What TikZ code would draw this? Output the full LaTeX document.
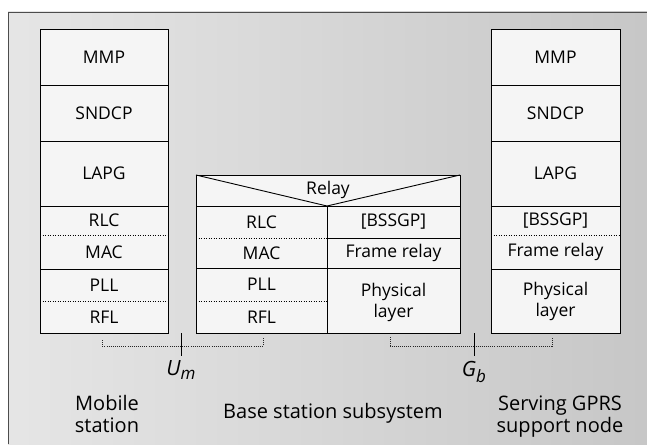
\documentclass[tikz,border=0pt]{standalone}
\usepackage{fontspec}
\setmainfont{Open Sans}
\begin{document}
\begin{tikzpicture}[x=1pt,y=-1pt,
  layer/.style={inner sep=0pt, font=\fontsize{17.5}{21}\selectfont, align=center},
  twoline/.style={layer, font=\fontsize{17.5}{21}\selectfont},
  caption/.style={inner sep=0pt, font=\fontsize{20}{22}\selectfont, align=center},
  iface/.style={inner sep=0pt, font=\fontsize{21}{24}\selectfont\itshape},
  boxline/.style={draw=black, line width=1pt},
  solidsep/.style={draw=black, line width=0.9pt},
  dotsep/.style={draw=black, line width=1pt, dash pattern=on 1.3pt off 1.2pt},
  bracket/.style={draw=black!85, line width=0.8pt, dash pattern=on 1pt off 1.1pt},
  tick/.style={draw=black, line width=0.8pt},
  boxfill/.style={fill=white!96!black}
]
\useasboundingbox (0,0) rectangle (647,444);
% halftone page background with its frame edges
\shade[left color=black!10, right color=black!22] (8,12) rectangle (647,444);
\draw[black!70, line width=0.7pt] (8,444) -- (8,12) -- (647,12);

% ---------- mobile station stack ----------
\path[boxfill] (40,30) rectangle (168,333);
\node[layer] (msmmp)   at (104,57.5)  {MMP};
\node[layer] (mssndcp) at (104,113)   {SNDCP};
\node[layer] (mslapg)  at (104,173.5) {LAPG};
\node[layer] (msrlc)   at (104,220.5) {RLC};
\node[layer] (msmac)   at (104,252)   {MAC};
\node[layer] (mspll)   at (104,285)   {PLL};
\node[layer] (msrfl)   at (104,317)   {RFL};
\coordinate (msnw) at (40,30);
\coordinate (msse) at (168,333);
\draw[solidsep] (40,85) -- (168,85);
\draw[solidsep] (40,141) -- (168,141);
\draw[solidsep] (40,206) -- (168,206);
\draw[dotsep]   (40,235) -- (168,235);
\draw[solidsep] (40,269) -- (168,269);
\draw[dotsep]   (40,301) -- (168,301);
\draw[boxline] (msnw) rectangle (msse);

% ---------- base station subsystem stack ----------
\path[boxfill] (196,175) rectangle (460,333);
\coordinate (bsnw) at (196,175);
\coordinate (bsne) at (460,175);
\coordinate (bsse) at (460,333);
\coordinate (bsmid) at (327,206);
\node[layer] (bsrelay) at (328,189.5) {Relay};
\node[layer] (bsrlc)   at (261.5,222) {RLC};
\node[layer] (bsmac)   at (261.5,253) {MAC};
\node[layer] (bspll)   at (261.5,284.5) {PLL};
\node[layer] (bsrfl)   at (261.5,317) {RFL};
\node[layer] (bsbssgp) at (393.5,222) {[BSSGP]};
\node[layer] (bsfr)    at (393.5,253) {Frame relay};
\node[twoline] (bsphy) at (393.5,302) {Physical\\layer};
\draw[line width=0.9pt] (bsnw) -- (bsmid) -- (bsne);
\draw[solidsep] (196,206) -- (460,206);
\draw[solidsep] (327,206) -- (327,333);
\draw[dotsep]   (196,238) -- (327,238);
\draw[solidsep] (327,238) -- (460,238);
\draw[solidsep] (196,268) -- (460,268);
\draw[dotsep]   (196,301) -- (327,301);
\draw[boxline] (bsnw) rectangle (bsse);

% ---------- serving GPRS support node stack ----------
\path[boxfill] (491,30) rectangle (620,333);
\coordinate (sgnw) at (491,30);
\coordinate (sgse) at (620,333);
\node[layer] (sgmmp)   at (555.5,57.5)  {MMP};
\node[layer] (sgsndcp) at (555.5,113)   {SNDCP};
\node[layer] (sglapg)  at (555.5,173.5) {LAPG};
\node[layer] (sgbssgp) at (555.5,220.5) {[BSSGP]};
\node[layer] (sgfr)    at (555.5,252)   {Frame relay};
\node[twoline] (sgphy) at (555.5,301) {Physical\\layer};
\draw[solidsep] (491,85) -- (620,85);
\draw[solidsep] (491,141) -- (620,141);
\draw[solidsep] (491,206) -- (620,206);
\draw[dotsep]   (491,235) -- (620,235);
\draw[solidsep] (491,269) -- (620,269);
\draw[boxline] (sgnw) rectangle (sgse);

% ---------- interfaces ----------
\coordinate (uma) at (102,340);
\coordinate (umb) at (263,337);
\draw[bracket] (uma) -- (102,346) -- (263,346) -- (umb);
\coordinate (umtop) at (181,333);
\coordinate (umbot) at (181,356);
\draw[tick] (umtop) -- (umbot);
\node[iface] (um) at (181,370) {U\raisebox{-0.35ex}{\fontsize{17}{20}\selectfont\itshape m}};

\coordinate (gba) at (390,337);
\coordinate (gbb) at (552,337);
\draw[bracket] (gba) -- (390,346) -- (552,346) -- (gbb);
\coordinate (gbtop) at (474,333);
\coordinate (gbbot) at (474,356);
\draw[tick] (gbtop) -- (gbbot);
\node[iface] (gb) at (474,372) {G\raisebox{-0.45ex}{\fontsize{17}{20}\selectfont\itshape b}};

% ---------- captions ----------
\node[caption] (msname) at (107,414) {Mobile\\station};
\node[caption] (bsname) at (333,413) {Base station subsystem};
\node[caption] (sgname) at (560,417) {Serving GPRS\\support node};
\end{tikzpicture}
\end{document}
